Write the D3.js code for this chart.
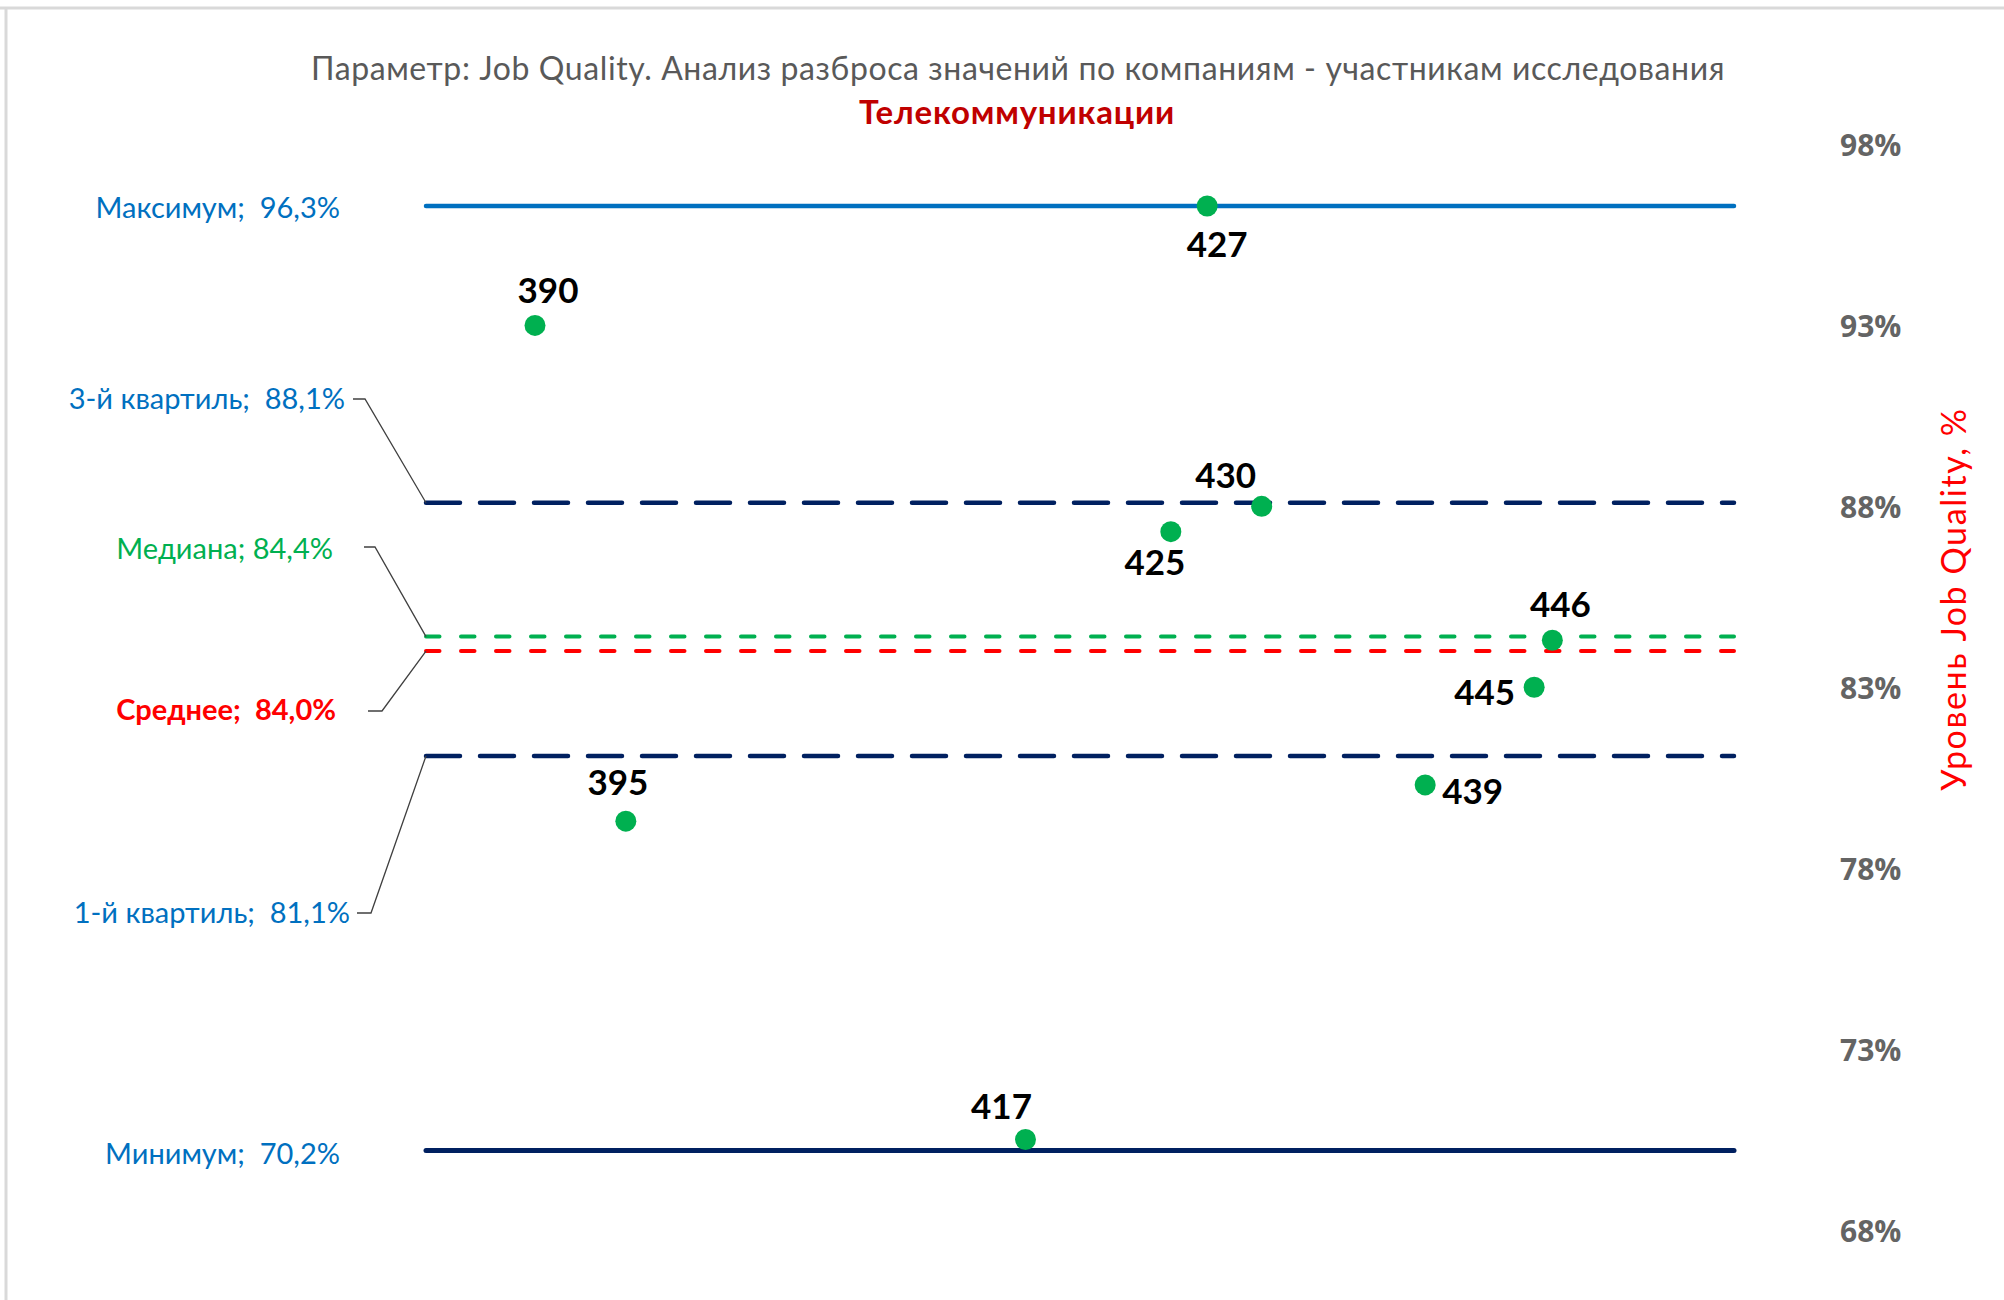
<!DOCTYPE html>
<html>
<head>
<meta charset="utf-8">
<script src="https://cdn.jsdelivr.net/npm/d3@7"></script>
<style>
  html, body { margin: 0; padding: 0; background: #fff; }
  svg { display: block; }
  text { white-space: pre; }
</style>
</head>
<body>
<svg id="chart" width="2004" height="1300"></svg>
<script>
// Companies (participant IDs) and their Job Quality scores, %
const companies = [390, 395, 417, 425, 427, 430, 439, 445, 446];
const scores    = [93.0, 79.3, 70.5, 87.3, 96.3, 88.0, 80.3, 83.0, 84.3];

// Summary statistics drawn as horizontal reference lines
const statNames  = ["Максимум", "3-й квартиль", "Медиана", "Среднее", "1-й квартиль", "Минимум"];
const statValues = [96.3, 88.1, 84.4, 84.0, 81.1, 70.2];
const statSeparators = [";  ", ";  ", "; ", ";  ", ";  ", ";  "];

// Right axis ticks, %
const tickValues = [68, 73, 78, 83, 88, 93, 98];

const titleText = "Параметр: Job Quality. Анализ разброса значений по компаниям - участникам исследования";
const subtitleText = "Телекоммуникации";
const axisTitle = "Уровень Job Quality, %";

// ---- layout & styling ----
const W = 2004, H = 1300;
const svg = d3.select("#chart");
const FONT = "Lato, 'Noto Sans', sans-serif";

const x = d3.scaleLinear().domain([384, 456]).range([426, 1734]);
const y = d3.scaleLinear().domain([68, 98]).range([1230, 144.5]);

// frame edges
svg.append("line").attr("x1", 0).attr("x2", W).attr("y1", 8).attr("y2", 8)
  .attr("stroke", "#d9d9d9").attr("stroke-width", 3);
svg.append("line").attr("x1", 6).attr("x2", 6).attr("y1", 8).attr("y2", H)
  .attr("stroke", "#d9d9d9").attr("stroke-width", 3);

// titles
svg.append("text").attr("x", 1018).attr("y", 80).attr("text-anchor", "middle")
  .attr("font-family", FONT).attr("font-size", 32).attr("letter-spacing", 0.6).attr("fill", "#595959")
  .text(titleText);
svg.append("text").attr("x", 1017).attr("y", 124).attr("text-anchor", "middle")
  .attr("font-family", FONT).attr("font-size", 33).attr("letter-spacing", 0.8)
  .attr("font-weight", "bold").attr("fill", "#C00000")
  .text(subtitleText);

// right axis
const axis = d3.axisRight(y).tickValues(tickValues).tickSize(0).tickPadding(0)
  .tickFormat(d => d + "%");
const gAxis = svg.append("g").attr("transform", "translate(1840,0)").call(axis);
gAxis.select(".domain").remove();
gAxis.selectAll("text")
  .attr("font-family", "'Open Sans', sans-serif").attr("font-size", 30).attr("font-weight", "bold")
  .attr("fill", "#646464").attr("dy", "0.38em");

// axis title
svg.append("text")
  .attr("transform", "translate(1966,599) rotate(-90)")
  .attr("text-anchor", "middle")
  .attr("font-family", FONT).attr("font-size", 34).attr("letter-spacing", 1.6).attr("fill", "#FF0000")
  .text(axisTitle);

// reference line styles (index-aligned with statValues)
const lineStyle = [
  { color: "#0070C0", width: 4.5, dash: null },
  { color: "#002060", width: 4.5, dash: "34 20" },
  { color: "#00B050", width: 4, dash: "13.5 21.5" },
  { color: "#FF0000", width: 4, dash: "13.5 21.5" },
  { color: "#002060", width: 4.5, dash: "34 20" },
  { color: "#002060", width: 5, dash: null }
];
const labelColor = ["#0070C0", "#0070C0", "#00B050", "#FF0000", "#0070C0", "#0070C0"];
const labelBold = [false, false, false, true, false, false];
// label anchor (right end x, baseline y) and optional leader elbow
const labelAt = [
  { x: 340, y: 218, leader: null },
  { x: 345, y: 409, leader: [353, 365, 399] },
  { x: 333, y: 559, leader: [364, 375, 547] },
  { x: 336, y: 720, leader: [368, 382, 711] },
  { x: 350, y: 923, leader: [357, 371, 913] },
  { x: 340, y: 1164, leader: null }
];

const [xMin, xMax] = x.domain();
statValues.forEach((v, i) => {
  const st = lineStyle[i];
  const ln = svg.append("line")
    .attr("x1", x(xMin)).attr("x2", x(xMax))
    .attr("y1", y(v)).attr("y2", y(v))
    .attr("stroke", st.color).attr("stroke-width", st.width)
    .attr("stroke-linecap", "round");
  if (st.dash) ln.attr("stroke-dasharray", st.dash);

  const la = labelAt[i];
  if (la.leader) {
    const [hx1, hx2, hy] = la.leader;
    svg.append("polyline")
      .attr("points", `${hx1},${hy} ${hx2},${hy} ${x(xMin)},${y(v)}`)
      .attr("fill", "none").attr("stroke", "#404040").attr("stroke-width", 1.3);
  }
  svg.append("text").attr("x", la.x).attr("y", la.y).attr("text-anchor", "end")
    .attr("font-family", FONT).attr("font-size", 29)
    .attr("font-weight", labelBold[i] ? "bold" : "normal")
    .attr("fill", labelColor[i])
    .text(statNames[i] + statSeparators[i] + d3.format(".1f")(v).replace(".", ",") + "%");
});

// company points
const labelOffset = [
  { dx: 13, dy: -22, anchor: "middle" },
  { dx: -8, dy: -26, anchor: "middle" },
  { dx: -24, dy: -21, anchor: "middle" },
  { dx: -16, dy: 43, anchor: "middle" },
  { dx: 10, dy: 51, anchor: "middle" },
  { dx: -36, dy: -18, anchor: "middle" },
  { dx: 17, dy: 19, anchor: "start" },
  { dx: -19, dy: 18, anchor: "end" },
  { dx: 8, dy: -23, anchor: "middle" }
];

const pts = companies.map((c, i) => ({ c, v: scores[i], o: labelOffset[i] }));
svg.append("g").selectAll("circle").data(pts).join("circle")
  .attr("cx", d => x(d.c)).attr("cy", d => y(d.v)).attr("r", 10.5)
  .attr("fill", "#00B050");
svg.append("g").selectAll("text").data(pts).join("text")
  .attr("x", d => x(d.c) + d.o.dx).attr("y", d => y(d.v) + d.o.dy)
  .attr("text-anchor", d => d.o.anchor)
  .attr("font-family", FONT).attr("font-size", 35).attr("font-weight", "bold").attr("fill", "#000")
  .text(d => d.c);
</script>
</body>
</html>
